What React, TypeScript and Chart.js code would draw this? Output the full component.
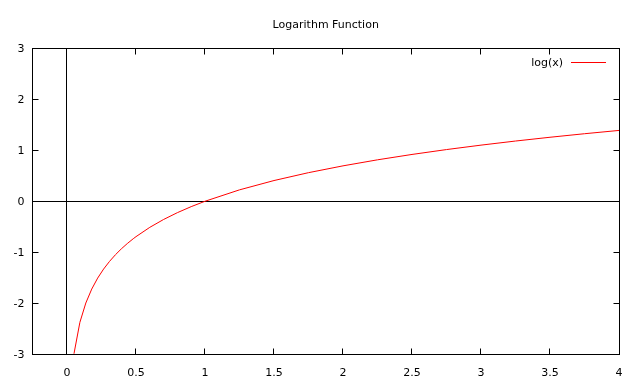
import React, { useEffect, useRef } from "react";
import { Chart, registerables } from "chart.js";

Chart.register(...registerables);

const titleText = "Logarithm Function";
const seriesLabel = "log(x)";
const xValues = [
  0.0505, 0.0934, 0.1364, 0.1793, 0.2222, 0.2652, 0.3081, 0.351, 0.3939, 0.4369, 0.4798,
  0.5, 0.6, 0.7, 0.8, 0.9, 1.0, 1.25, 1.5, 1.75, 2.0, 2.25, 2.5, 2.75, 3.0, 3.25, 3.5, 3.75, 4.0,
];
const logValues = [
  -2.9856, -2.3704, -1.9924, -1.7187, -1.5041, -1.3274, -1.1775, -1.047, -0.9316, -0.8281, -0.7344,
  -0.6931, -0.5108, -0.3567, -0.2231, -0.1054, 0.0, 0.2231, 0.4055, 0.5596, 0.6931, 0.8109, 0.9163,
  1.0116, 1.0986, 1.1787, 1.2528, 1.3218, 1.3863,
];
const xTicks = [0, 0.5, 1, 1.5, 2, 2.5, 3, 3.5, 4];
const yTicks = [-3, -2, -1, 0, 1, 2, 3];
const xMin = -0.25;
const xMax = 4;
const yMin = -3;
const yMax = 3;

const FONT = "'DejaVu Sans', sans-serif";
const snap = (v: number) => Math.floor(v) + 0.5;

const framePlugin = {
  id: "gnuplotFrame",
  beforeDatasetsDraw(chart: any) {
    const { ctx, chartArea } = chart;
    const xs = chart.scales.x;
    const ys = chart.scales.y;
    const l = snap(chartArea.left);
    const r = snap(chartArea.right);
    const t = snap(chartArea.top);
    const b = snap(chartArea.bottom);
    const xPix = (v: number) =>
      v >= xMax ? r : v <= xMin ? l : snap(xs.getPixelForValue(v) - 0.6);
    const yPix = (v: number) =>
      v >= yMax ? t : v <= yMin ? b : snap(ys.getPixelForValue(v));
    ctx.save();
    ctx.strokeStyle = "#000";
    ctx.lineWidth = 1;
    ctx.beginPath();
    const x0 = xPix(0);
    const y0 = yPix(0);
    ctx.moveTo(x0, t);
    ctx.lineTo(x0, b);
    ctx.moveTo(l, y0);
    ctx.lineTo(r, y0);
    const tl = 6;
    for (const v of xTicks) {
      const px = xPix(v);
      ctx.moveTo(px, b);
      ctx.lineTo(px, b - tl);
      ctx.moveTo(px, t);
      ctx.lineTo(px, t + tl);
    }
    for (const v of yTicks) {
      const py = yPix(v);
      ctx.moveTo(l, py);
      ctx.lineTo(l + tl, py);
      ctx.moveTo(r, py);
      ctx.lineTo(r - tl, py);
    }
    ctx.stroke();
    ctx.strokeRect(l, t, r - l, b - t);
    ctx.restore();
  },
  afterDraw(chart: any) {
    const { ctx, chartArea } = chart;
    ctx.save();
    ctx.fillStyle = "#000";
    ctx.font = `11px ${FONT}`;
    ctx.textAlign = "center";
    ctx.textBaseline = "alphabetic";
    ctx.fillText(titleText, (chartArea.left + chartArea.right) / 2, 28);
    ctx.textAlign = "right";
    ctx.textBaseline = "middle";
    ctx.fillText(seriesLabel, 563, 63);
    ctx.strokeStyle = "#ff0000";
    ctx.lineWidth = 1;
    ctx.beginPath();
    ctx.moveTo(571, 62.5);
    ctx.lineTo(606, 62.5);
    ctx.stroke();
    ctx.restore();
  },
};

export default function App() {
  const canvasRef = useRef<HTMLCanvasElement | null>(null);

  useEffect(() => {
    document.body.style.margin = "0";
    const canvas = canvasRef.current;
    if (!canvas) return;
    const data = xValues.map((x, i) => ({ x, y: logValues[i] }));
    const chart = new Chart(canvas, {
      type: "line",
      data: {
        datasets: [
          {
            label: seriesLabel,
            data,
            borderColor: "#ff0000",
            borderWidth: 1,
            pointRadius: 0,
            fill: false,
            tension: 0,
          },
        ],
      },
      options: {
        animation: false,
        responsive: false,
        maintainAspectRatio: false,
        layout: { padding: { left: 0, top: 48, right: 21, bottom: 0 } },
        plugins: {
          legend: { display: false },
          title: { display: false },
          tooltip: { enabled: false },
        },
        scales: {
          x: {
            type: "linear",
            min: xMin,
            max: xMax,
            border: { display: false },
            grid: { display: false, drawTicks: false },
            ticks: {
              color: "#000",
              font: { family: FONT, size: 11 },
              padding: 12,
              maxRotation: 0,
              autoSkip: false,
              callback: (v: any) => String(v),
            },
            afterBuildTicks: (scale: any) => {
              scale.ticks = xTicks.map((v) => ({ value: v }));
            },
            afterFit: (scale: any) => {
              scale.height = 32.5;
            },
          },
          y: {
            type: "linear",
            min: yMin,
            max: yMax,
            border: { display: false },
            grid: { display: false, drawTicks: false },
            ticks: {
              color: "#000",
              font: { family: FONT, size: 11 },
              padding: 8,
              labelOffset: 1,
              autoSkip: false,
              callback: (v: any) => String(v),
            },
            afterBuildTicks: (scale: any) => {
              scale.ticks = yTicks.map((v) => ({ value: v }));
            },
            afterFit: (scale: any) => {
              scale.width = 32.5;
            },
          },
        },
      },
      plugins: [framePlugin],
    });
    return () => chart.destroy();
  }, []);

  return (
    <div style={{ width: 640, height: 387, background: "#fff" }}>
      <canvas ref={canvasRef} width={640} height={387} />
    </div>
  );
}
